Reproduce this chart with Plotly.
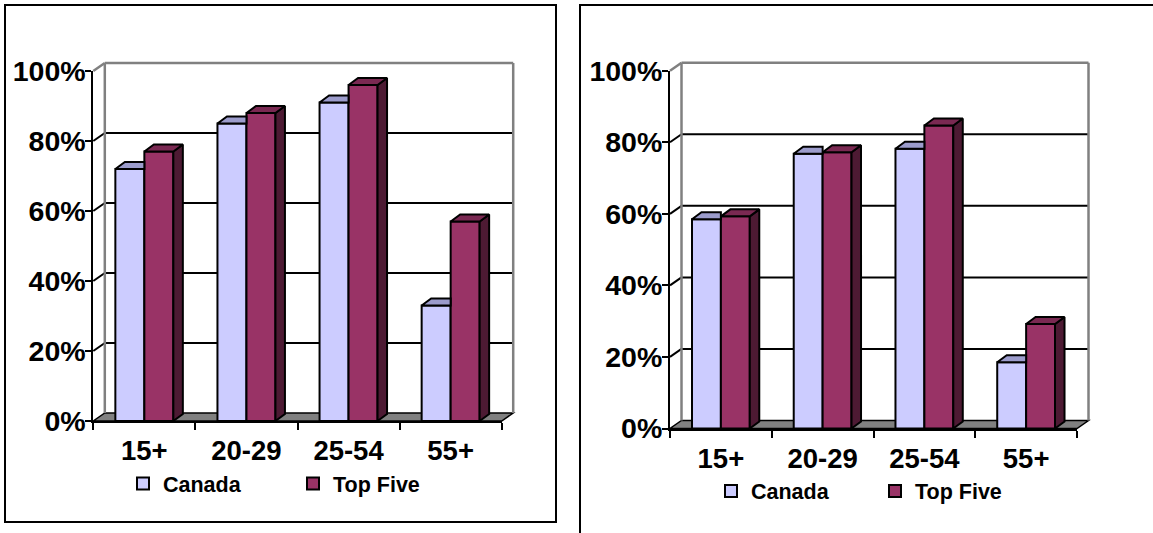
import plotly.graph_objects as go

W, H = 1153, 533

# ---------------- data ----------------
categories = ["15+", "20-29", "25-54", "55+"]
series_names = ["Canada", "Top Five"]
left_canada = [72, 85, 91, 33]
left_top_five = [77, 88, 96, 57]
right_canada = [58.5, 76.8, 78.2, 18.5]
right_top_five = [59.3, 77.2, 84.7, 29.2]
y_tickvals = [0, 20, 40, 60, 80, 100]
y_ticktext = ["0%", "20%", "40%", "60%", "80%", "100%"]

# ---------------- style ----------------
FONT = "Liberation Sans, Arial, sans-serif"
CAN_FRONT, CAN_TOP = "#CCCCFF", "#9C9CCC"
TF_FRONT, TF_TOP, TF_SIDE = "#993366", "#7A2952", "#4D1A33"
WALL_GRAY = "#808080"
BAR_W = 0.284

panels = [
    dict(values=(left_canada, left_top_five), x0=93.3, x4=501.7, y0=421.0, y100=71.0,
         wdx=11.5, wdy=8.0, bdx=9.5, bdy=7.0,
         box=(5, 5, 556, 522), legend_xy=(123, 483.5), entry=125, legend="legend"),
    dict(values=(right_canada, right_top_five), x0=670.0, x4=1077.0, y0=428.5, y100=70.7,
         wdx=11.5, wdy=8.0, bdx=9.5, bdy=7.0,
         box=(580, 5, 1170, 560), legend_xy=(711, 491), entry=119, legend="legend2"),
]

fig = go.Figure()
layout = dict(width=W, height=H, margin=dict(l=0, r=0, t=0, b=0, autoexpand=False),
              paper_bgcolor="white", plot_bgcolor="rgba(0,0,0,0)",
              barmode="overlay", showlegend=True, shapes=[])

n = len(categories)
for pi, p in enumerate(panels):
    ppx = (p["x4"] - p["x0"]) / n
    ppy = (p["y0"] - p["y100"]) / 100.0
    wdx, wdy = p["wdx"] / ppx, p["wdy"] / ppy
    bdx, bdy = p["bdx"] / ppx, p["bdy"] / ppy

    def xdom(r0, r1):
        return [(p["x0"] + r0 * ppx) / W, (p["x0"] + r1 * ppx) / W]

    def ydom(r0, r1):
        return [1 - (p["y0"] - r0 * ppy) / H, 1 - (p["y0"] - r1 * ppy) / H]

    cx = f"x{2*pi+1}" if pi else "x"
    cy = f"y{2*pi+1}" if pi else "y"
    fx, fy = f"x{2*pi+2}", f"y{2*pi+2}"
    cxa, cya = cx.replace("x", "xaxis"), cy.replace("y", "yaxis")
    fxa, fya = fx.replace("x", "xaxis"), fy.replace("y", "yaxis")

    # canvas axes (hold walls, floor, bars in 3D)
    xr = [-0.06, n + wdx + 0.06]
    yr = [-1.0, 100 + wdy + 1.0]
    layout[cxa] = dict(domain=xdom(*xr), range=xr, visible=False, anchor=cy, fixedrange=True)
    layout[cya] = dict(domain=ydom(*yr), range=yr, visible=False, anchor=cx, fixedrange=True)
    # front axes (axis lines, ticks, labels)
    centers = [i + 0.5 for i in range(n)]
    layout[fxa] = dict(domain=xdom(0, n), range=[0, n], anchor=fy, showline=True,
                       linecolor="black", linewidth=2, showgrid=False, zeroline=False,
                       tickmode="array", tickvals=centers, ticktext=categories, ticks="",
                       ticklabelstandoff=4,
                       minor=dict(tickmode="array", tickvals=list(range(n + 1)), ticks="outside",
                                  ticklen=7, tickwidth=2, tickcolor="black", showgrid=False),
                       tickfont=dict(family=FONT, size=27.5, color="black", weight="bold"),
                       fixedrange=True)
    layout[fya] = dict(domain=ydom(0, 100), range=[0, 100], anchor=fx, showline=True,
                       linecolor="black", linewidth=2, showgrid=False, zeroline=False,
                       tickmode="array", tickvals=y_tickvals, ticktext=y_ticktext,
                       ticks="outside", ticklen=6, tickwidth=2, tickcolor="black",
                       ticklabelstandoff=-6,
                       tickfont=dict(family=FONT, size=28.5, color="black", weight="bold"),
                       fixedrange=True)
    fig.add_trace(go.Scatter(x=[None], y=[None], xaxis=fx, yaxis=fy, showlegend=False,
                             hoverinfo="skip"))

    shp = layout["shapes"]
    # floor
    shp.append(dict(type="path", xref=cx, yref=cy, layer="below",
                    path=f"M0,0 L{n},0 L{n+wdx},{wdy} L{wdx},{wdy} Z",
                    fillcolor=WALL_GRAY, line=dict(color="black", width=1.5)))
    # back wall gridlines and side-wall diagonals
    for g in y_tickvals[1:]:
        col = WALL_GRAY if g == 100 else "black"
        w = 2.5 if g == 100 else 2
        shp.append(dict(type="line", xref=cx, yref=cy, layer="below",
                        x0=wdx, y0=g + wdy, x1=n + wdx, y1=g + wdy,
                        line=dict(color=col, width=w)))
        shp.append(dict(type="line", xref=cx, yref=cy, layer="below",
                        x0=0, y0=g, x1=wdx, y1=g + wdy, line=dict(color=col, width=w)))
    # back wall left / right edges
    for xe in (wdx, n + wdx):
        shp.append(dict(type="line", xref=cx, yref=cy, layer="below",
                        x0=xe, y0=wdy, x1=xe, y1=100 + wdy,
                        line=dict(color=WALL_GRAY, width=2.5)))
    # panel border
    bx0, by0, bx1, by1 = p["box"]
    shp.append(dict(type="rect", xref="paper", yref="paper", layer="below",
                    x0=bx0 / W, x1=bx1 / W, y0=1 - by0 / H, y1=1 - by1 / H,
                    line=dict(color="black", width=2), fillcolor="rgba(0,0,0,0)"))

    can_vals, tf_vals = p["values"]
    # front faces as bars
    fig.add_trace(go.Bar(x=centers, y=can_vals, width=BAR_W, offset=-BAR_W, name=series_names[0],
                         marker=dict(color=CAN_FRONT, line=dict(color="black", width=2)),
                         xaxis=cx, yaxis=cy, legend=p["legend"], hoverinfo="skip"))
    fig.add_trace(go.Bar(x=centers, y=tf_vals, width=BAR_W, offset=0, name=series_names[1],
                         marker=dict(color=TF_FRONT, line=dict(color="black", width=2)),
                         xaxis=cx, yaxis=cy, legend=p["legend"], hoverinfo="skip"))

    # top / side faces computed from the values
    can_tx, can_ty, tf_tx, tf_ty, tf_sx, tf_sy = [], [], [], [], [], []
    for c, v1, v2 in zip(centers, can_vals, tf_vals):
        xl, xm, xr_ = c - BAR_W, c, c + BAR_W
        can_tx += [xl, xm, xm, xl + bdx, xl, None]
        can_ty += [v1, v1, v1 + bdy, v1 + bdy, v1, None]
        tf_tx += [xm, xr_, xr_ + bdx, xm + bdx, xm, None]
        tf_ty += [v2, v2, v2 + bdy, v2 + bdy, v2, None]
        tf_sx += [xr_, xr_ + bdx, xr_ + bdx, xr_, xr_, None]
        tf_sy += [0, bdy, v2 + bdy, v2, 0, None]
    for xs, ys, col in ((can_tx, can_ty, CAN_TOP), (tf_sx, tf_sy, TF_SIDE), (tf_tx, tf_ty, TF_TOP)):
        fig.add_trace(go.Scatter(x=xs, y=ys, mode="lines", fill="toself", fillcolor=col,
                                 line=dict(color="black", width=2), xaxis=cx, yaxis=cy,
                                 showlegend=False, hoverinfo="skip"))

    lx, ly = p["legend_xy"]
    layout[p["legend"]] = dict(orientation="h", x=lx / W, y=1 - ly / H, xanchor="left",
                               yanchor="middle", bgcolor="rgba(0,0,0,0)", borderwidth=0,
                               entrywidth=p["entry"], entrywidthmode="pixels",
                               font=dict(family=FONT, size=21.5, color="black", weight="bold"))

fig.update_layout(**layout)
fig.write_html("out.html")
